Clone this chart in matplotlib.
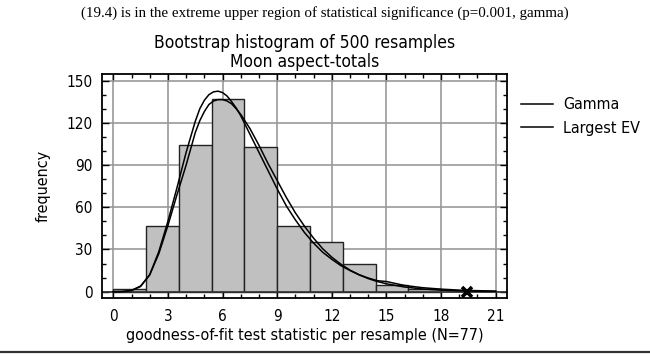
import matplotlib
matplotlib.use('Agg')
import matplotlib.pyplot as plt
import numpy as np
from matplotlib.ticker import MultipleLocator

plt.rcParams['font.family'] = ['DejaVu Sans Condensed', 'DejaVu Sans']
plt.rcParams['font.stretch'] = 'condensed'

# histogram of bootstrap resamples
bin_edges = [0.0, 1.8, 3.6, 5.4, 7.2, 9.0, 10.8, 12.6, 14.4, 16.2, 18.0]
counts = [2, 47, 104, 137, 103, 47, 35, 20, 5, 2]

# fitted curves
curve_x = [0.0, 0.5, 1.0, 1.5, 2.0, 2.5, 3.0, 3.5, 4.0, 4.5, 4.75, 5.0, 5.25,
           5.5, 5.75, 6.0, 6.25, 6.5, 6.75, 7.0, 7.5, 8.0, 8.5, 9.0, 9.5,
           10.0, 10.5, 11.0, 11.5, 12.0, 12.5, 13.0, 13.5, 14.0, 14.5, 15.0,
           16.0, 17.0, 18.0, 19.0, 20.0, 21.0]
gamma_y = [0.0, 0.1, 0.9, 4.0, 12, 27, 47, 69, 90, 113, 121.5, 128, 133,
           135.5, 136.5, 136.5, 135.5, 133.5, 130, 126, 116, 104, 91, 79, 67,
           56, 46.5, 38, 30.5, 24.5, 19.5, 15.3, 12, 9.3, 7.2, 5.6,
           3.3, 1.9, 1.1, 0.6, 0.3, 0.2]
ev_y = [0.0, 0.1, 0.8, 3.7, 12, 28.5, 50, 74, 99, 121, 130, 136, 140,
        142, 142.5, 141.5, 139, 135, 130.5, 125, 112, 99, 86, 73, 61,
        51, 42, 34.5, 28, 23, 18.5, 15, 12, 9.7, 7.8, 7.2,
        4.4, 2.8, 1.8, 1.1, 0.7, 0.4]

observed = 19.4

fig = plt.figure(figsize=(6.5, 3.56), dpi=100)
ax = fig.add_axes([102/650, 1-298/356, 405/650, 224/356])

widths = np.diff(bin_edges)
ax.bar(bin_edges[:-1], counts, width=widths, align='edge', color='#c0c0c0',
       edgecolor='#222222', linewidth=1.0, zorder=2)
ax.axhline(0, color='#333333', lw=1.2, zorder=2.5)
ax.plot(curve_x, gamma_y, color='black', lw=1.1, label='Gamma', zorder=3)
ax.plot(curve_x, ev_y, color='black', lw=1.1, label='Largest EV', zorder=3)
ax.plot([observed], [0], marker='x', color='black', ms=7, mew=2.6, zorder=4,
        clip_on=False)

ax.set_xlim(-0.62, 21.62)
ax.set_ylim(-4.5, 154.7)
ax.xaxis.set_major_locator(MultipleLocator(3))
ax.xaxis.set_minor_locator(MultipleLocator(1))
ax.yaxis.set_major_locator(MultipleLocator(30))
ax.yaxis.set_minor_locator(MultipleLocator(10))
ax.tick_params(which='both', direction='in', top=True, right=True,
               labeltop=False, labelright=False, color='black')
ax.tick_params(which='major', length=5, width=1.0, labelsize=11)
ax.tick_params(axis='x', which='major', pad=8)
ax.tick_params(axis='y', which='major', pad=7)
ax.tick_params(which='minor', length=3, width=1.0)
ax.grid(True, which='major', color='#999999', lw=1.2, zorder=0)
ax.set_axisbelow(True)
for s in ax.spines.values():
    s.set_linewidth(1.3)

ax.set_xlabel('goodness-of-fit test statistic per resample (N=77)', fontsize=11.5,
              labelpad=3)
ax.set_ylabel('frequency', fontsize=11.5, labelpad=11)
ax.set_title('Bootstrap histogram of 500 resamples\nMoon aspect-totals',
             fontsize=12.5, linespacing=1.05, pad=5)

ax.legend(loc='upper left', bbox_to_anchor=(1.02, 0.925), frameon=False,
          fontsize=11.5, handlelength=2.0, handletextpad=0.6, labelspacing=0.55,
          borderaxespad=0)

fig.text(0.5, 1-13/356, '(19.4) is in the extreme upper region of statistical '
         'significance (p=0.001, gamma)', ha='center', va='center',
         fontsize=10.8, family=['Liberation Serif', 'DejaVu Serif'],
         stretch='normal')
fig.add_artist(plt.Line2D([0, 1], [1-352/356, 1-352/356], color='#333333',
                          lw=1.6, transform=fig.transFigure))

fig.savefig('out.png', dpi=100)
